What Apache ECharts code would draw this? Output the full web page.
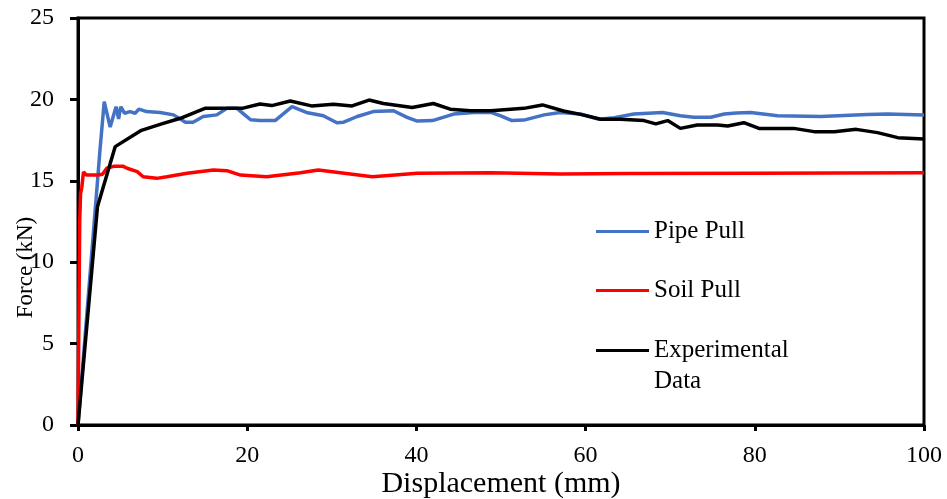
<!DOCTYPE html>
<html>
<head>
<meta charset="utf-8">
<script src="https://cdn.jsdelivr.net/npm/echarts@6/dist/echarts.min.js"></script>
<style>html,body{margin:0;padding:0;background:#fff}#c{width:947px;height:499px}</style>
</head>
<body>
<div id="c"></div>
<script>
const xTicks = [0, 20, 40, 60, 80, 100];
const yTicks = [0, 5, 10, 15, 20, 25];

const pipeX = [0, 2.6, 3.1, 3.8, 4.5, 4.8, 5.05, 5.5, 6.15, 6.75, 7.2, 8.1, 9.7, 11.3, 12.7, 13.6, 14.8, 16.4, 17.6, 18.8, 19.6, 20.4, 21.5, 23.3, 25.3, 27.0, 29.0, 30.6, 31.4, 33.0, 34.9, 37.3, 38.9, 40.1, 41.9, 44.4, 46.8, 48.8, 49.9, 51.3, 52.7, 55.1, 57.0, 59.4, 61.6, 63.4, 65.7, 69.1, 71.2, 72.8, 74.8, 76.4, 77.8, 79.5, 82.7, 87.8, 93.3, 95.7, 100];
const pipeY = [0, 16.9, 19.86, 18.3, 19.55, 18.8, 19.55, 19.15, 19.25, 19.15, 19.4, 19.25, 19.2, 19.05, 18.6, 18.6, 18.95, 19.05, 19.45, 19.45, 19.1, 18.75, 18.7, 18.7, 19.55, 19.2, 19.0, 18.57, 18.6, 18.95, 19.25, 19.3, 18.9, 18.67, 18.7, 19.1, 19.2, 19.2, 19.0, 18.7, 18.73, 19.05, 19.2, 19.1, 18.78, 18.88, 19.1, 19.19, 19.0, 18.9, 18.9, 19.1, 19.17, 19.19, 19.0, 18.95, 19.08, 19.1, 19.04];

const soilX = [0, 0.2, 0.3, 0.45, 0.65, 1.0, 2.3, 2.9, 3.4, 4.3, 5.3, 5.8, 7.0, 7.7, 9.3, 10.5, 12.9, 16.0, 17.6, 19.2, 22.3, 26.3, 28.4, 31.0, 34.8, 40.1, 48.8, 57, 65, 80, 100];
const soilY = [0, 12.5, 14.2, 14.6, 15.55, 15.35, 15.35, 15.4, 15.77, 15.9, 15.9, 15.77, 15.56, 15.25, 15.15, 15.25, 15.46, 15.66, 15.62, 15.35, 15.25, 15.5, 15.66, 15.5, 15.25, 15.46, 15.5, 15.42, 15.45, 15.47, 15.5];

const expX = [0, 2.3, 4.4, 7.5, 9.7, 12.1, 15.0, 19.4, 21.5, 22.9, 25.1, 27.6, 30.2, 32.4, 34.4, 36.1, 39.5, 42.0, 44.0, 46.4, 48.8, 52.7, 54.9, 57.4, 59.4, 61.8, 64.1, 66.9, 68.3, 69.7, 71.2, 73.2, 75.6, 76.8, 78.7, 80.5, 84.6, 87.0, 89.4, 92.0, 94.5, 96.9, 100];
const expY = [0, 13.4, 17.1, 18.1, 18.47, 18.84, 19.45, 19.45, 19.72, 19.62, 19.9, 19.6, 19.7, 19.6, 19.96, 19.75, 19.5, 19.75, 19.4, 19.3, 19.3, 19.45, 19.66, 19.29, 19.08, 18.78, 18.78, 18.7, 18.5, 18.7, 18.22, 18.43, 18.43, 18.37, 18.57, 18.22, 18.22, 18.02, 18.02, 18.16, 17.96, 17.65, 17.57];

const seriesNames = ['Pipe Pull', 'Soil Pull', 'Experimental Data'];
const seriesColors = ['#4472C4', '#FF0000', '#000000'];

function pairs(xs, ys) { return xs.map((x, i) => [x, ys[i]]); }
const seriesData = [pairs(pipeX, pipeY), pairs(soilX, soilY), pairs(expX, expY)];

const FONT = '"Liberation Serif", "Times New Roman", serif';
const chart = echarts.init(document.getElementById('c'), null, { renderer: 'canvas' });

const legendTops = [211, 270, 299];
const legends = seriesNames.map((n, i) => ({
  data: [n],
  left: 591,
  top: legendTops[i],
  orient: 'vertical',
  icon: 'rect',
  itemWidth: 53,
  itemHeight: 3,
  formatter: nm => nm === 'Experimental Data' ? '\nExperimental\nData' : nm,
  textStyle: { fontFamily: FONT, fontSize: 25, color: '#000', lineHeight: 31 },
  selectedMode: false
}));

chart.setOption({
  animation: false,
  backgroundColor: '#fff',
  grid: { left: 78, right: 23, top: 18, bottom: 74, outerBoundsMode: 'none', containLabel: false, show: true, borderColor: '#000', borderWidth: 3 },
  legend: legends,
  xAxis: {
    type: 'value', min: xTicks[0], max: xTicks[xTicks.length - 1], interval: xTicks[1] - xTicks[0],
    name: 'Displacement (mm)', nameLocation: 'middle', nameGap: 44, nameMoveOverlap: false,
    nameTextStyle: { fontFamily: FONT, fontSize: 30, color: '#000' },
    axisLine: { show: true, lineStyle: { color: '#000', width: 3 } },
    axisTick: { show: true, inside: false, length: 6, lineStyle: { color: '#000', width: 3 } },
    axisLabel: { fontFamily: FONT, fontSize: 24, color: '#000', margin: 19 },
    splitLine: { show: false }
  },
  yAxis: {
    type: 'value', min: yTicks[0], max: yTicks[yTicks.length - 1], interval: yTicks[1] - yTicks[0],
    name: 'Force (kN)', nameLocation: 'middle', nameGap: 41, nameMoveOverlap: false,
    nameTextStyle: { fontFamily: FONT, fontSize: 23, color: '#000', padding: [0, 92, 0, 0] },
    axisLine: { show: true, lineStyle: { color: '#000', width: 3 } },
    axisTick: { show: true, inside: false, length: 8, lineStyle: { color: '#000', width: 3 } },
    axisLabel: { fontFamily: FONT, fontSize: 24, color: '#000', margin: 24 },
    splitLine: { show: false }
  },
  series: seriesNames.map((n, i) => ({
    name: n, type: 'line', data: seriesData[i],
    showSymbol: false, symbol: 'none', smooth: false,
    lineStyle: { color: seriesColors[i], width: 3.5 },
    itemStyle: { color: seriesColors[i] },
    z: 2 + i
  }))
});
</script>
</body>
</html>
